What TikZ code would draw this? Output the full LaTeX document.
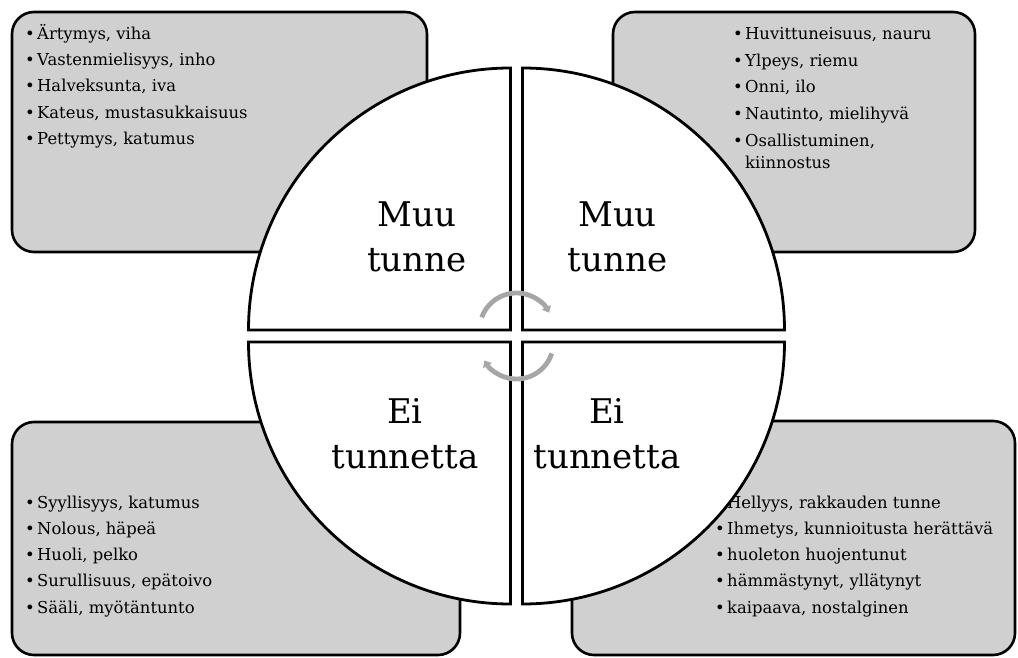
\documentclass[tikz,border=0pt]{standalone}
\usepackage{fontspec}
\setmainfont{DejaVu Serif}
\usetikzlibrary{arrows.meta,positioning,calc}
\definecolor{boxgray}{HTML}{D0D0D0}
\definecolor{arrowgray}{HTML}{A6A6A6}
\tikzstyle{listbox}=[draw=black,fill=boxgray,line width=2.6pt,rounded corners=22pt]
\tikzstyle{quarter}=[draw=black,fill=white,line width=2.8pt,line join=miter]
\tikzstyle{item}=[anchor=base west,inner sep=0pt,font=\fontsize{16.4}{18}\selectfont]
\tikzstyle{feeling}=[anchor=base,align=center,inner sep=0pt,font=\fontsize{34}{45}\selectfont]
\tikzstyle{turnarrow}=[draw=arrowgray,line width=4.8pt,-{Triangle[length=6pt,width=10pt]}]
\newcommand{\bul}{\makebox[12pt][l]{\textbullet}}

\begin{document}
\begin{tikzpicture}[x=1pt,y=1pt]
\useasboundingbox (0,0) rectangle (1018,657);
\draw[listbox] (12,405) rectangle (427,645);
\draw[listbox] (613,405) rectangle (975,645);
\draw[listbox] (12,2) rectangle (460,235);
\draw[listbox] (572,2) rectangle (1015,236);

\foreach \yy/\txt [count=\i] in {617.7/{Ärtymys, viha},591.4/{Vastenmielisyys, inho},
  565.1/{Halveksunta, iva},538.8/{Kateus, mustasukkaisuus},512.5/{Pettymys, katumus}}
  \node[item] (tl-\i) at (25,\yy) {\bul\txt};
\foreach \yy/\txt [count=\i] in {617/{Huvittuneisuus, nauru},590.3/{Ylpeys, riemu},
  564.3/{Onni, ilo},537/{Nautinto, mielihyvä},510.3/{Osallistuminen,}}
  \node[item] (tr-\i) at (733,\yy) {\bul\txt};
\node[item] (tr-6) at (733,488.7) {\hspace*{12pt}kiinnostus};
\foreach \yy/\txt [count=\i] in {148.7/{Syyllisyys, katumus},122.7/{Nolous, häpeä},
  96.3/{Huoli, pelko},70.3/{Surullisuus, epätoivo},43.7/{Sääli, myötäntunto}}
  \node[item] (bl-\i) at (25,\yy) {\bul\txt};
\foreach \yy/\txt [count=\i] in {148.7/{Hellyys, rakkauden tunne},122.7/{Ihmetys, kunnioitusta herättävä},
  96.3/{huoleton huojentunut},70.3/{hämmästynyt, yllätynyt},43.7/{kaipaava, nostalginen}}
  \node[item] (br-\i) at (715,\yy) {\bul\txt};

\draw[quarter] (510.5,327) -- ++(-262,0) arc[start angle=180,end angle=90,radius=262pt] -- cycle;
\draw[quarter] (522.5,327) -- ++(0,262) arc[start angle=90,end angle=0,radius=262pt] -- cycle;
\draw[quarter] (510.5,315) -- ++(-262,0) arc[start angle=180,end angle=270,radius=262pt] -- cycle;
\draw[quarter] (522.5,315) -- ++(262,0) arc[start angle=0,end angle=-90,radius=262pt] -- cycle;

\node[feeling] (muu-l) at (417,385.3) {Muu\\tunne};
\node[feeling] (muu-r) at (617.5,385.3) {Muu\\tunne};
\node[feeling] (ei-l) at (405,188.5) {Ei\\tunnetta};
\node[feeling] (ei-r) at (607,188.5) {Ei\\tunnetta};

\coordinate (up) at (516.5,327);
\coordinate (down) at (516.5,315);
\draw[turnarrow] ($(up)+(160:37)$) arc[start angle=160,end angle=28,radius=37pt];
\draw[turnarrow] ($(down)+(-18:37)$) arc[start angle=-18,end angle=-150,radius=37pt];
\end{tikzpicture}
\end{document}
